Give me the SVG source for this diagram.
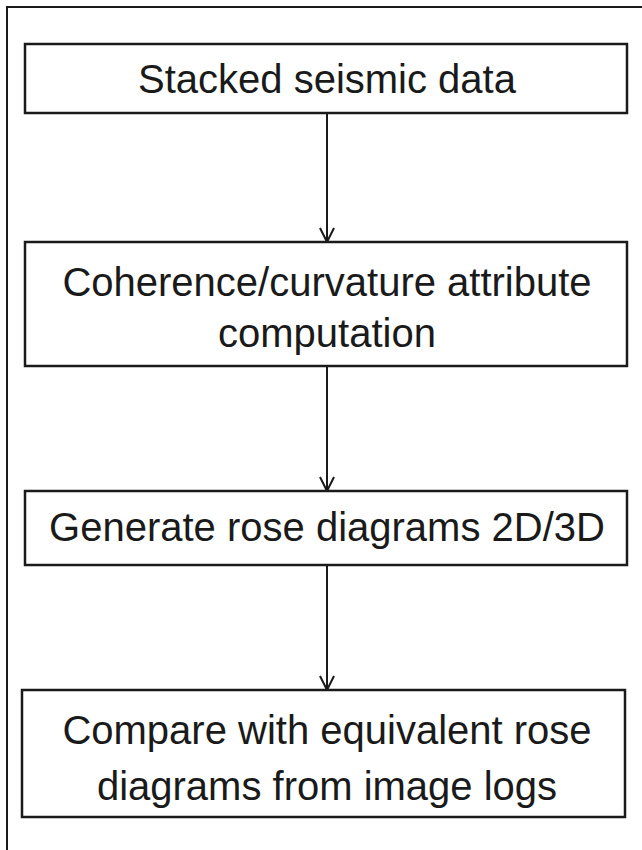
<svg xmlns="http://www.w3.org/2000/svg" width="642" height="850" viewBox="0 0 642 850">
<defs>
<style>
.frame{fill:none;stroke:#1a1a1a;stroke-width:2}
.box{fill:#fff;stroke:#1a1a1a;stroke-width:2.5}
.lbl{font-family:"Liberation Sans","Open Sans",sans-serif;font-size:40px;fill:#1a1a1a;text-anchor:middle}
.conn{stroke:#1a1a1a;stroke-width:2;fill:none}
</style>
<marker id="arr" viewBox="0 0 18 16" refX="16" refY="8" markerWidth="18" markerHeight="16" markerUnits="userSpaceOnUse" orient="auto">
<path d="M2,1 L16,8 L2,15" fill="none" stroke="#1a1a1a" stroke-width="2"/>
</marker>
</defs>
<rect width="642" height="850" fill="#fff"/>
<path class="frame" d="M7,850 V7 H642"/>
<g id="connectors">
<line class="conn" x1="327" y1="113" x2="327" y2="242" marker-end="url(#arr)"/>
<line class="conn" x1="327" y1="366" x2="327" y2="491" marker-end="url(#arr)"/>
<line class="conn" x1="327" y1="565" x2="327" y2="690" marker-end="url(#arr)"/>
</g>
<g id="n1">
<rect class="box" x="25" y="44" width="602" height="69"/>
<text class="lbl" x="327" y="93">Stacked seismic data</text>
</g>
<g id="n2">
<rect class="box" x="25" y="242" width="602" height="124"/>
<text class="lbl" x="327" y="296">Coherence/curvature attribute</text>
<text class="lbl" x="327" y="347">computation</text>
</g>
<g id="n3">
<rect class="box" x="25" y="491" width="602" height="74"/>
<text class="lbl" x="327" y="541">Generate rose diagrams 2D/3D</text>
</g>
<g id="n4">
<rect class="box" x="22" y="690" width="603" height="127"/>
<text class="lbl" x="327" y="744">Compare with equivalent rose</text>
<text class="lbl" x="327" y="800">diagrams from image logs</text>
</g>
</svg>
